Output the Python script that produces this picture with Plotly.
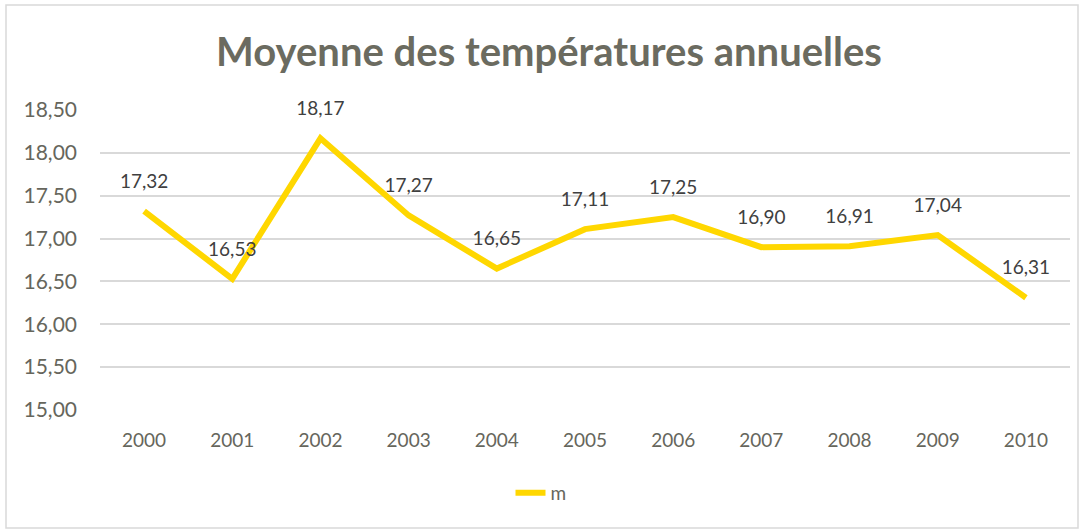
import plotly.graph_objects as go

years = ["2000", "2001", "2002", "2003", "2004", "2005", "2006", "2007", "2008", "2009", "2010"]
temps = [17.32, 16.53, 18.17, 17.27, 16.65, 17.11, 17.25, 16.90, 16.91, 17.04, 16.31]
y_ticks = [15.0, 15.5, 16.0, 16.5, 17.0, 17.5, 18.0, 18.5]
series_name = "m"
title_text = "Moyenne des températures annuelles"

labels = [f"{v:.2f}".replace(".", ",") for v in temps]
tick_text = [f"{v:.2f}".replace(".", ",") for v in y_ticks]

W, H = 1082, 531
L, R, T, B = 100, 12, 110, 121
pw, ph = W - L - R, H - T - B
FONT = "Lato, Open Sans, sans-serif"

fig = go.Figure()
fig.add_trace(go.Scatter(
    x=years, y=temps, name=series_name, mode="lines",
    line=dict(color="#FFD700", width=6),
))
fig.add_trace(go.Scatter(
    x=years, y=temps, mode="markers+text", showlegend=False, hoverinfo="skip",
    marker=dict(size=28, opacity=0, color="#FFD700"),
    text=labels, textposition="top center",
    textfont=dict(family=FONT, size=19, color="#404040"),
    cliponaxis=False,
))

fig.update_layout(
    width=W, height=H,
    margin=dict(l=L, r=R, t=T, b=B),
    paper_bgcolor="white", plot_bgcolor="white",
    separators=",.",
    title=dict(text=f"<b>{title_text}</b>", x=(W / 2 + 8) / W, xanchor="center", y=1 - 52 / H, yanchor="middle",
               font=dict(family=FONT, size=40, color="#6b6b60")),
    xaxis=dict(type="category", range=[-0.5, 10.5], showgrid=False, zeroline=False, showline=False,
               ticks="", automargin=False,
               tickfont=dict(family=FONT, size=19, color="#66665c"),
               ticklabelstandoff=17),
    yaxis=dict(range=[15.0, 18.5], tickvals=y_ticks, ticktext=tick_text, showgrid=True,
               automargin=False,
               gridcolor="#d9d9d9", gridwidth=1.5, zeroline=False, showline=False, ticks="",
               tickfont=dict(family=FONT, size=21, color="#66665c"),
               ticklabelstandoff=22),
    showlegend=True,
    legend=dict(orientation="h", x=(541 - L) / pw, xanchor="center", y=(410 - 493) / ph, yanchor="middle",
                font=dict(family=FONT, size=19, color="#66665c"),
                itemwidth=30),
    shapes=[dict(type="rect", xref="paper", yref="paper",
                 x0=(6 - L) / pw, x1=(1078 - L) / pw,
                 y0=(H - B - 528) / ph, y1=(H - B - 5) / ph,
                 line=dict(color="#d9d9d9", width=1.5), fillcolor="rgba(0,0,0,0)", layer="below")],
)

fig.write_html("out.html", config={"displayModeBar": False},
               post_script="document.body.style.margin='0';document.body.style.overflow='hidden';")
